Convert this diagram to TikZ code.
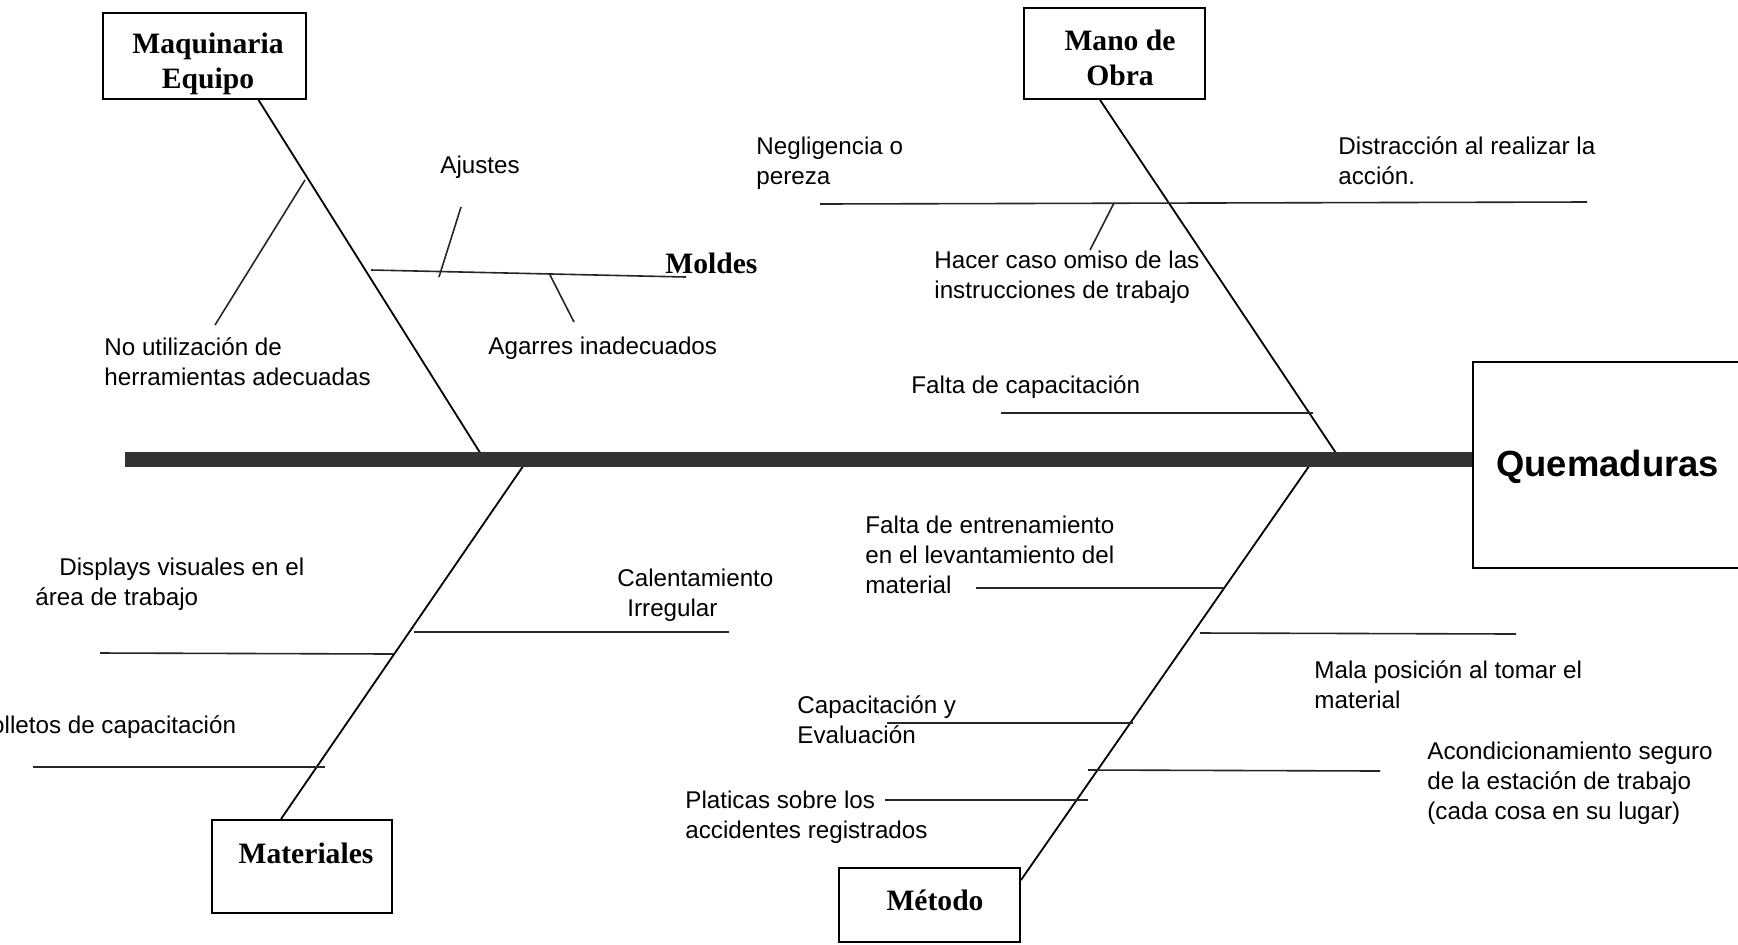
\documentclass[tikz,border=0pt]{standalone}
\usepackage{fontspec}
\setmainfont{Liberation Sans}
\newfontfamily\catfont{Liberation Serif}
\tikzset{
  box/.style={draw, line width=1pt, inner sep=0pt},
  cat/.style={font=\catfont\bfseries\fontsize{14.8}{17.5}\selectfont, align=center, inner sep=0pt},
  cause/.style={font=\fontsize{12.1}{15}\selectfont, align=left, anchor=west, inner sep=0pt},
  bone/.style={line width=0.9pt},
  rib/.style={line width=0.8pt, black!85},
  spine/.style={line width=7.5pt, black!80},
}
\begin{document}
\begin{tikzpicture}[x=0.5pt,y=-0.5pt]
	\path[use as bounding box, fill=white] (0,0) rectangle (1738,944);
	% categories
	\node[box, minimum width=101.5pt, minimum height=43pt] (maq) at (204.5,56) {};
	\node[cat] (maqt) at (208,63.5) {Maquinaria\\Equipo};
	\node[box, minimum width=90.5pt, minimum height=45.5pt] (mano) at (1114.5,53.5) {};
	\node[cat] (manot) at (1120,57.5) {Mano de\\Obra};
	\node[box, minimum width=90pt, minimum height=46.5pt] (mat) at (302,866.5) {};
	\node[cat] (matt) at (306,853) {Materiales};
	\node[box, minimum width=90.5pt, minimum height=37pt] (met) at (929.5,905) {};
	\node[cat] (mett) at (935,900) {Método};
	\node[box, anchor=north west, minimum width=144pt, minimum height=103pt] (quem) at (1472,361) {};
	\node[anchor=west, inner sep=0pt, font=\bfseries\fontsize{18.2}{20}\selectfont] (quemt) at (1496,467) {Quemaduras};
	\node[cat, anchor=west] (moldes) at (665,263) {Moldes};

	% bones
	\coordinate (spinestart) at (125,459);
	\coordinate (jmaq) at (484,459);
	\coordinate (jmano) at (1340,459);
	\coordinate (jmat) at (528,459);
	\coordinate (jmet) at (1314,459);
	\draw[bone] ([xshift=27pt]maq.south) -- (jmaq);
	\draw[bone] ([xshift=-7.25pt]mano.south) -- (jmano);
	\draw[bone] ([xshift=-10.5pt]mat.north) -- (jmat);
	\draw[bone] ([yshift=12.5pt]met.east) -- (jmet);
	\draw[spine] (spinestart) -- (spinestart -| quem.west);

	% ribs
	\foreach \xa/\ya/\xb/\yb in {371/270/686/277, 461/207/439/277, 550/275/574/322,
			305/180/215/325, 820/204/1587/202, 1114/203/1090/250, 1001/413/1313/413,
			100/653/393/654, 33/767/325/767, 414/632/729/632, 976/588/1224/588,
			1200/633/1516/634, 887/723/1133/723, 1088/770/1380/771, 885/800/1088/800}{%
			\draw[rib] (\xa,\ya) -- (\xb,\yb);
			}

	% causes
	\node[cause] (nouti) at (104,362) {No utilización de\\herramientas adecuadas};
	\node[cause] (ajustes) at (440,167) {Ajustes};
	\node[cause] (agarres) at (488,348) {Agarres inadecuados};
	\node[cause] (negl) at (756,163) {Negligencia o\\pereza};
	\node[cause] (distr) at (1338,161) {Distracción al realizar la\\acción.};
	\node[cause] (hacer) at (934,277) {Hacer caso omiso de las\\instrucciones de trabajo};
	\node[cause] (faltacap) at (911,387) {Falta de capacitación};
	\node[cause] (displays) at (35,584) {\hspace{12pt}Displays visuales en el\\área de trabajo};
	\node[cause] (folletos) at (-24,727) {Folletos de capacitación};
	\node[cause] (calent) at (617,595) {Calentamiento\\\hspace{5pt}Irregular};
	\node[cause] (faltaent) at (865,555) {Falta de entrenamiento\\en el levantamiento del\\material};
	\node[cause] (mala) at (1314,685) {Mala posición al tomar el\\material};
	\node[cause] (capac) at (797,720) {Capacitación y\\Evaluación};
	\node[cause] (acond) at (1427,783) {Acondicionamiento seguro\\de la estación de trabajo\\(cada cosa en su lugar)};
	\node[cause] (platicas) at (685,817) {Platicas sobre los\\accidentes registrados};
\end{tikzpicture}
\end{document}
